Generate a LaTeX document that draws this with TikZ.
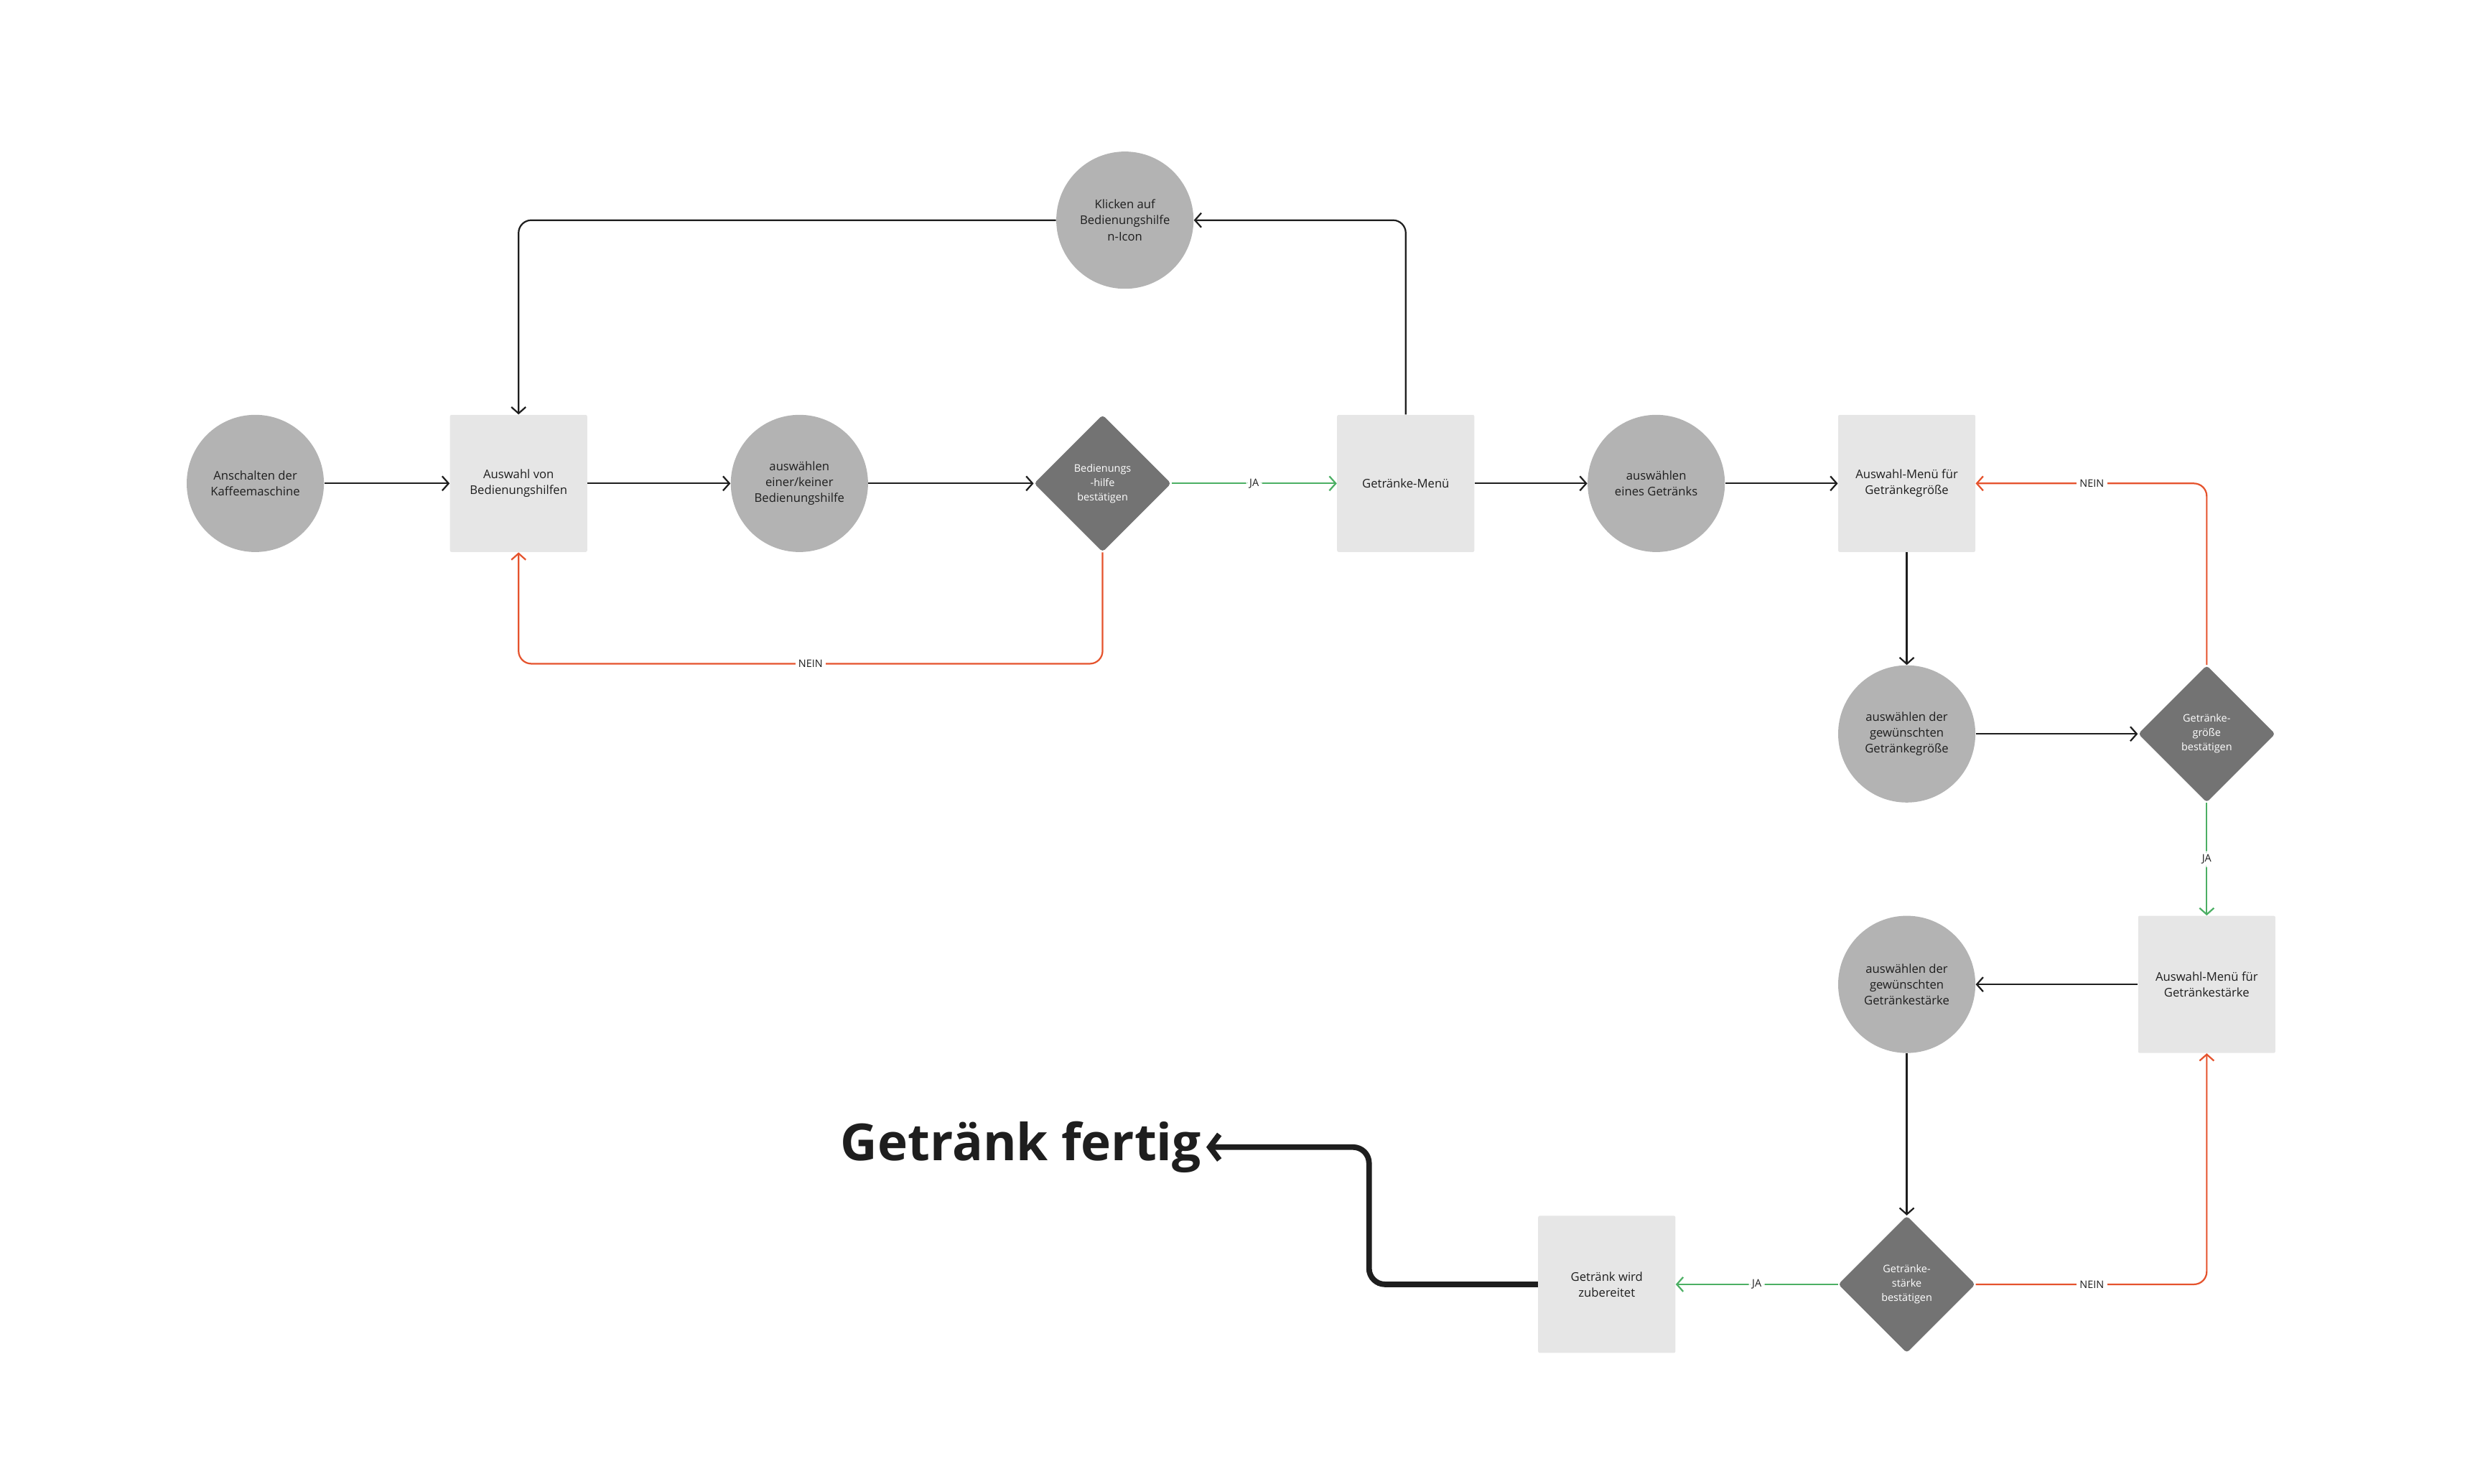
\documentclass[tikz,border=0pt]{standalone}
\usepackage{fontspec}
\setmainfont{Open Sans}
\usetikzlibrary{shapes.geometric,arrows.meta}
\definecolor{circ}{HTML}{B3B3B3}
\definecolor{sq}{HTML}{E6E6E6}
\definecolor{dia}{HTML}{737373}
\definecolor{rd}{HTML}{E5532D}
\definecolor{gr}{HTML}{4CAF64}
\definecolor{ink}{HTML}{1E1E1E}
\begin{document}
\begin{tikzpicture}[x=1pt,y=-1pt,
 every node/.style={font=\fontsize{7.5}{10}\selectfont, text=ink, align=center},
 c/.style={circle, fill=circ, minimum size=86pt, inner sep=0pt},
 s/.style={rectangle, fill=sq, minimum size=86pt, inner sep=0pt, rounded corners=1pt},
 d/.style={diamond, fill=dia, minimum size=86pt, inner sep=0pt, rounded corners=2pt, text=white, font=\fontsize{6.5}{9}\selectfont},
 a/.style={draw=ink, line width=1pt, -{Straight Barb[length=4pt,width=9pt]}, rounded corners=8pt},
 ar/.style={a, draw=rd},
 ag/.style={a, draw=gr},
 lb/.style={fill=white, inner sep=2pt, font=\fontsize{6.5}{8}\selectfont}]
\useasboundingbox (0,0) rectangle (1548,930);
\node[c] (n1) at (160,303) {Anschalten der\\Kaffeemaschine};
\node[s] (n2) at (325,303) {Auswahl von\\Bedienungshilfen};
\node[c] (n3) at (501,303) {auswählen\\einer/keiner\\Bedienungshilfe};
\node[d] (n4) at (691,303) {Bedienungs\\-hilfe\\bestätigen};
\node[s] (n5) at (881,303) {Getränke-Menü};
\node[c] (n6) at (1038,303) {auswählen\\eines Getränks};
\node[s] (n7) at (1195,303) {Auswahl-Menü für\\Getränkegröße};
\node[c] (n8) at (705,138) {Klicken auf\\Bedienungshilfe\\n-Icon};
\node[c] (n9) at (1195,460) {auswählen der\\gewünschten\\Getränkegröße};
\node[d] (n10) at (1383,460) {Getränke-\\größe\\bestätigen};
\node[s] (n11) at (1383,617) {Auswahl-Menü für\\Getränkestärke};
\node[c] (n12) at (1195,617) {auswählen der\\gewünschten\\Getränkestärke};
\node[d] (n13) at (1195,805) {Getränke-\\stärke\\bestätigen};
\node[s] (n14) at (1007,805) {Getränk wird\\zubereitet};
\node[font=\fontsize{32}{36}\selectfont\bfseries, inner sep=0pt, anchor=east] (fin) at (753,719) {Getränk fertig};
\coordinate (finr) at (756,719);

\draw[a] (n1) -- (n2);
\draw[a] (n2) -- (n3);
\draw[a] (n3) -- (n4);
\draw[ag] (n4) -- node[lb]{JA} (n5);
\draw[a] (n5) -- (n6);
\draw[a] (n6) -- (n7);
\draw[a] (n5.north) |- (n8.east);
\draw[a] (n8.west) -| (n2.north);
\draw[ar] (n4.south) |- (508,416) -| (n2.south);
\node[lb] at (508,416) {NEIN};
\draw[ar] (n10.north) |- (n7.east);
\node[lb] at (1311,303) {NEIN};
\draw[a] (n7) -- (n9);
\draw[a] (n9) -- (n10);
\draw[ag] (n10) -- node[lb]{JA} (n11);
\draw[a] (n11) -- (n12);
\draw[a] (n12) -- (n13);
\draw[ar] (n13.east) -| (n11.south);
\node[lb] at (1311,805) {NEIN};
\draw[ag] (n13) -- node[lb]{JA} (n14);
\draw[draw=ink, line width=3.5pt, rounded corners=10pt, -{Straight Barb[length=6pt,width=16pt]}] (n14.west) -- (858,805) -- (858,719) -- (finr);
\end{tikzpicture}
\end{document}
